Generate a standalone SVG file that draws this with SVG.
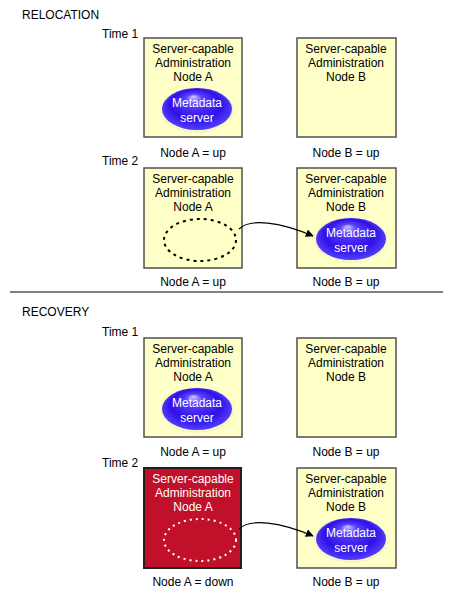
<svg xmlns="http://www.w3.org/2000/svg" width="455" height="599" viewBox="0 0 455 599">
<style>
text{font-family:"Liberation Sans",Arial,sans-serif;font-size:12px;fill:#000}
.c{text-anchor:middle}
.box{fill:#FFFFC8;stroke:#505050;stroke-width:1.5}
.down{fill:#C0102A;stroke:#202020;stroke-width:2}
.w{fill:#fff}
.md{fill:url(#blue)}
.conn{fill:none;stroke:#000;stroke-width:1.2}
</style>
<defs>
<radialGradient id="blue" cx="0.5" cy="0.5" r="0.55" fx="0.45" fy="0.2">
<stop offset="0" stop-color="#D0C8FF"/>
<stop offset="0.22" stop-color="#5A40FF"/>
<stop offset="0.65" stop-color="#3010E8"/>
<stop offset="1" stop-color="#5A48FF"/>
</radialGradient>
<marker id="arr" viewBox="0 0 10 10" refX="9" refY="5" markerWidth="8" markerHeight="8" orient="auto" markerUnits="userSpaceOnUse">
<path d="M0,0 L10,5 L0,10 z" fill="#000"/>
</marker>
</defs>
<rect width="455" height="599" fill="#fff"/>

<text x="22" y="19">RELOCATION</text>
<text x="102" y="38">Time 1</text>
<text x="102" y="165">Time 2</text>
<line x1="10" y1="292" x2="443" y2="292" stroke="#000" stroke-width="1"/>
<text x="22" y="316">RECOVERY</text>
<text x="102" y="336">Time 1</text>
<text x="102" y="467">Time 2</text>

<g id="rel-t1-a">
<rect class="box" x="144" y="38" width="98" height="99"/>
<text class="c" x="193" y="53">Server-capable</text>
<text class="c" x="193" y="67">Administration</text>
<text class="c" x="193" y="81">Node A</text>
<ellipse cx="197" cy="110" rx="37" ry="23" fill="#F0F0C0" opacity="0.6"/>
<ellipse class="md" cx="197" cy="109" rx="35" ry="21"/>
<text class="c w" x="197" y="107">Metadata</text>
<text class="c w" x="197" y="122">server</text>
<text class="c" x="193" y="157">Node A = up</text>
</g>
<g id="rel-t1-b">
<rect class="box" x="297" y="38" width="99" height="99"/>
<text class="c" x="346" y="53">Server-capable</text>
<text class="c" x="346" y="67">Administration</text>
<text class="c" x="346" y="81">Node B</text>
<text class="c" x="346" y="157">Node B = up</text>
</g>

<g id="rel-t2-a">
<rect class="box" x="144" y="168" width="98" height="100"/>
<text class="c" x="193" y="183">Server-capable</text>
<text class="c" x="193" y="197">Administration</text>
<text class="c" x="193" y="211">Node A</text>
<ellipse cx="200" cy="240" rx="36" ry="21" fill="none" stroke="#000" stroke-width="2" stroke-dasharray="3,4"/>
<text class="c" x="193" y="286">Node A = up</text>
</g>
<g id="rel-t2-b">
<rect class="box" x="297" y="168" width="99" height="100"/>
<text class="c" x="346" y="183">Server-capable</text>
<text class="c" x="346" y="197">Administration</text>
<text class="c" x="346" y="211">Node B</text>
<ellipse cx="351" cy="240" rx="37" ry="23" fill="#F0F0C0" opacity="0.6"/>
<ellipse class="md" cx="351" cy="239" rx="35" ry="21"/>
<text class="c w" x="351" y="237">Metadata</text>
<text class="c w" x="351" y="252">server</text>
<text class="c" x="346" y="286">Node B = up</text>
</g>

<g id="rec-t1-a">
<rect class="box" x="144" y="338" width="98" height="99"/>
<text class="c" x="193" y="353">Server-capable</text>
<text class="c" x="193" y="367">Administration</text>
<text class="c" x="193" y="381">Node A</text>
<ellipse cx="197" cy="410" rx="37" ry="23" fill="#F0F0C0" opacity="0.6"/>
<ellipse class="md" cx="197" cy="409" rx="35" ry="21"/>
<text class="c w" x="197" y="407">Metadata</text>
<text class="c w" x="197" y="422">server</text>
<text class="c" x="193" y="456">Node A = up</text>
</g>
<g id="rec-t1-b">
<rect class="box" x="297" y="338" width="99" height="99"/>
<text class="c" x="346" y="353">Server-capable</text>
<text class="c" x="346" y="367">Administration</text>
<text class="c" x="346" y="381">Node B</text>
<text class="c" x="346" y="456">Node B = up</text>
</g>

<g id="rec-t2-a">
<rect class="down" x="144" y="468" width="97" height="100"/>
<text class="c w" x="193" y="483">Server-capable</text>
<text class="c w" x="193" y="497">Administration</text>
<text class="c w" x="193" y="511">Node A</text>
<ellipse cx="200" cy="540" rx="36" ry="21" fill="none" stroke="#fff" stroke-width="2" stroke-dasharray="2,4"/>
<text class="c" x="193" y="586">Node A = down</text>
</g>
<g id="rec-t2-b">
<rect class="box" x="297" y="468" width="99" height="100"/>
<text class="c" x="346" y="483">Server-capable</text>
<text class="c" x="346" y="497">Administration</text>
<text class="c" x="346" y="511">Node B</text>
<ellipse cx="351" cy="540" rx="37" ry="23" fill="#F0F0C0" opacity="0.6"/>
<ellipse class="md" cx="351" cy="539" rx="35" ry="21"/>
<text class="c w" x="351" y="537">Metadata</text>
<text class="c w" x="351" y="552">server</text>
<text class="c" x="346" y="586">Node B = up</text>
</g>

<g id="connectors">
<path class="conn" d="M239 229 C250 218 280 222 313 236" marker-end="url(#arr)"/>
<path class="conn" d="M239 529 C250 518 280 522 313 536" marker-end="url(#arr)"/>
</g>
</svg>
